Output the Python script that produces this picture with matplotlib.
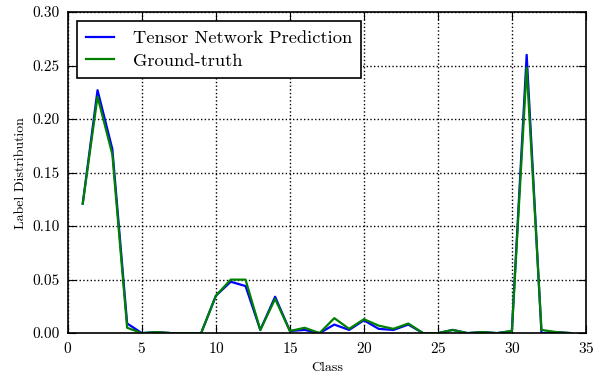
import numpy as np
import matplotlib
matplotlib.use('Agg')
import matplotlib.pyplot as plt

plt.rcParams['font.family'] = 'cmr10'
plt.rcParams['mathtext.fontset'] = 'cm'
plt.rcParams['axes.formatter.use_mathtext'] = True

# classes 1..34
classes = list(range(1, 35))
prediction = [0.121, 0.227, 0.172, 0.009, 0.000, 0.001, 0.000, 0.000, 0.000, 0.035,
              0.048, 0.044, 0.003, 0.034, 0.002, 0.003, 0.000, 0.008, 0.003, 0.012,
              0.004, 0.003, 0.008, 0.000, 0.000, 0.003, 0.000, 0.001, 0.000, 0.002,
              0.260, 0.000, 0.001, 0.000]
ground_truth = [0.121, 0.221, 0.167, 0.005, 0.000, 0.001, 0.000, 0.000, 0.000, 0.035,
                0.050, 0.050, 0.003, 0.032, 0.002, 0.005, 0.000, 0.014, 0.004, 0.013,
                0.007, 0.004, 0.009, 0.000, 0.000, 0.003, 0.000, 0.001, 0.000, 0.002,
                0.248, 0.003, 0.001, 0.000]

fig = plt.figure(figsize=(5.96, 3.76), dpi=100)
ax = fig.add_axes([0.114, 0.114, 0.869, 0.854])

ax.plot(classes, prediction, color='b', linewidth=1.6, label='Tensor Network Prediction')
ax.plot(classes, ground_truth, color='g', linewidth=1.6, label='Ground-truth')

ax.set_xlim(0, 35)
ax.set_ylim(0, 0.30)
ax.set_xticks(range(0, 36, 5))
ax.set_yticks(np.arange(0, 0.31, 0.05))
ax.set_yticklabels(['%.2f' % v for v in np.arange(0, 0.31, 0.05)])
ax.grid(True, linestyle=':', color='k', linewidth=1)
ax.tick_params(direction='in', top=True, right=True, labelsize=11, length=6, pad=6)
for s in ax.spines.values():
    s.set_linewidth(1.2)

ax.set_xlabel('Class', fontsize=10)
ax.set_ylabel('Label Distribution', fontsize=10)

leg = ax.legend(loc='upper left', fontsize=13.3, fancybox=False, framealpha=1,
                borderaxespad=0.5, borderpad=0.5, handlelength=1.5,
                handletextpad=1.0, labelspacing=0.35)
leg.get_frame().set_edgecolor('k')
leg.get_frame().set_linewidth(1.2)

fig.savefig('out.png', dpi=100)
